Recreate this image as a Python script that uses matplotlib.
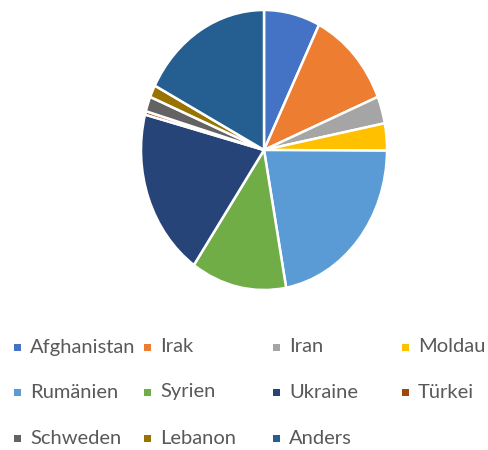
import matplotlib
matplotlib.use("Agg")
import matplotlib.pyplot as plt
from matplotlib.patches import Rectangle

labels = ["Afghanistan", "Irak", "Iran", "Moldau", "Rumänien", "Syrien",
          "Ukraine", "Türkei", "Schweden", "Lebanon", "Anders"]
values = [7.3, 11.3, 3.1, 3.1, 21.8, 12.4, 19.2, 0.4, 1.7, 1.4, 17.2]
colors = ["#4472C4", "#ED7D31", "#A5A5A5", "#FFC000", "#5B9BD5", "#70AD47",
          "#264478", "#9E480E", "#636363", "#997300", "#255E91"]

plt.rcParams['font.family'] = ['Lato', 'DejaVu Sans']

W, H = 488, 450
fig = plt.figure(figsize=(W / 100, H / 100), dpi=100)

cx, cy, rx, ry = 264, 150, 123, 140
ax = fig.add_axes([(cx - rx) / W, (H - cy - ry) / H, 2 * rx / W, 2 * ry / H])
wedges, _ = ax.pie(values, colors=colors, startangle=90, counterclock=False,
                   radius=1.0, wedgeprops=dict(edgecolor="white", linewidth=1.8))
ax.set_aspect('auto')
ax.set_xlim(-1, 1)
ax.set_ylim(-1, 1)
ax.axis('off')

col_x = [14, 144, 273, 402]
row_y = [347, 392, 438]
for i, (lab, w) in enumerate(zip(labels, wedges)):
    r, c = divmod(i, 4)
    x, y = col_x[c], row_y[r]
    fig.patches.append(Rectangle(((x) / W, (H - y - 4) / H), 7 / W, 7 / H,
                                 transform=fig.transFigure,
                                 facecolor=w.get_facecolor(), edgecolor='none'))
    fig.text((x + 16) / W, (H - y) / H, lab, fontsize=14.5, color="#595959",
             ha='left', va='center')

fig.savefig("out.png", dpi=100)
